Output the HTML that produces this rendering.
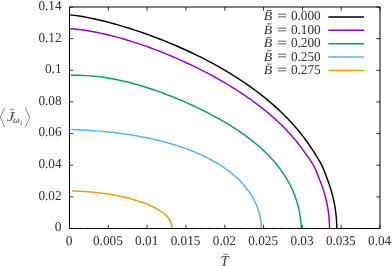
<!DOCTYPE html>
<html><head><meta charset="utf-8"><title>chart</title>
<style>html,body{margin:0;padding:0;background:#fff;overflow:hidden}body{width:392px;height:266px;position:relative;font-family:"Liberation Serif",serif}</style></head>
<body>
<svg width="392" height="266" viewBox="0 0 392 266" style="position:absolute;left:0;top:0;will-change:transform" text-rendering="geometricPrecision">
<rect width="392" height="266" fill="#fff"/>
<path d="M70.00,14.87 L74.58,15.39 L79.12,16.06 L83.61,16.82 L88.05,17.65 L92.45,18.55 L96.80,19.51 L101.11,20.51 L105.37,21.56 L109.59,22.64 L113.76,23.77 L117.89,24.92 L121.97,26.11 L126.00,27.32 L130.00,28.56 L133.94,29.83 L137.85,31.12 L141.71,32.43 L145.52,33.76 L149.29,35.11 L153.02,36.48 L156.70,37.86 L160.34,39.26 L163.94,40.68 L167.49,42.11 L171.00,43.56 L174.47,45.02 L177.90,46.50 L181.28,47.98 L184.62,49.48 L187.92,50.99 L191.18,52.52 L194.39,54.05 L197.56,55.59 L200.69,57.15 L203.78,58.71 L206.83,60.28 L209.84,61.87 L212.80,63.46 L215.73,65.06 L218.61,66.67 L221.45,68.29 L224.26,69.92 L227.02,71.55 L229.74,73.19 L232.43,74.84 L235.07,76.50 L237.68,78.17 L240.24,79.84 L242.77,81.52 L245.25,83.20 L247.70,84.89 L250.11,86.59 L252.48,88.29 L254.81,90.00 L257.11,91.72 L259.37,93.44 L261.58,95.16 L263.77,96.89 L265.91,98.63 L268.02,100.37 L270.09,102.12 L272.12,103.86 L274.11,105.62 L276.07,107.38 L278.00,109.14 L279.89,110.90 L281.74,112.67 L283.55,114.44 L285.33,116.22 L287.08,117.99 L288.79,119.77 L290.46,121.55 L292.10,123.34 L293.71,125.12 L295.28,126.91 L296.82,128.70 L298.33,130.49 L299.80,132.28 L301.23,134.07 L302.64,135.87 L304.01,137.66 L305.35,139.45 L306.65,141.24 L307.93,143.03 L309.17,144.82 L310.38,146.61 L311.56,148.40 L312.70,150.19 L313.86,151.97 L315.02,153.75 L316.16,155.53 L317.27,157.31 L318.34,159.08 L319.39,160.85 L320.41,162.62 L321.38,164.38 L322.17,166.14 L322.94,167.89 L323.68,169.64 L324.39,171.38 L325.07,173.12 L325.73,174.85 L326.36,176.57 L327.01,178.29 L327.66,180.00 L328.29,181.70 L328.89,183.39 L329.47,185.08 L330.02,186.75 L330.55,188.42 L331.05,190.08 L331.52,191.72 L331.98,193.36 L332.41,194.98 L332.81,196.59 L333.19,198.19 L333.55,199.78 L333.89,201.35 L334.21,202.91 L334.50,204.45 L334.78,205.97 L335.03,207.48 L335.26,208.97 L335.48,210.44 L335.67,211.89 L335.85,213.32 L336.00,214.73 L336.14,216.11 L336.27,217.47 L336.38,218.79 L336.47,220.09 L336.55,221.35 L336.61,222.57 L336.66,223.75 L336.70,224.88 L336.72,225.95 L336.74,226.94 L336.75,227.83 L336.75,228.50" stroke="#000000" stroke-width="1.45" fill="none" stroke-linejoin="round" stroke-linecap="butt"/>
<path d="M70.00,28.73 L74.46,29.05 L78.87,29.51 L83.24,30.08 L87.56,30.74 L91.84,31.47 L96.08,32.27 L100.27,33.13 L104.41,34.05 L108.51,35.01 L112.57,36.03 L116.59,37.08 L120.56,38.17 L124.48,39.30 L128.37,40.46 L132.21,41.65 L136.00,42.87 L139.76,44.12 L143.47,45.39 L147.14,46.68 L150.76,47.99 L154.35,49.33 L157.89,50.68 L161.39,52.04 L164.84,53.43 L168.26,54.83 L171.63,56.24 L174.97,57.66 L178.26,59.10 L181.51,60.54 L184.71,62.00 L187.88,63.47 L191.01,64.94 L194.09,66.43 L197.14,67.92 L200.15,69.42 L203.11,70.92 L206.04,72.44 L208.92,73.96 L211.77,75.48 L214.57,77.01 L217.34,78.55 L220.07,80.09 L222.75,81.64 L225.40,83.19 L228.01,84.75 L230.59,86.31 L233.12,87.87 L235.61,89.44 L238.07,91.01 L240.49,92.59 L242.87,94.17 L245.22,95.76 L247.52,97.34 L249.79,98.94 L252.02,100.53 L254.22,102.13 L256.38,103.73 L258.50,105.34 L260.58,106.94 L262.63,108.55 L264.65,110.17 L266.62,111.78 L268.57,113.40 L270.47,115.03 L272.34,116.65 L274.18,118.28 L275.98,119.91 L277.75,121.54 L279.48,123.18 L281.18,124.82 L282.84,126.46 L284.47,128.10 L286.07,129.74 L287.63,131.39 L289.16,133.04 L290.66,134.68 L292.12,136.34 L293.55,137.99 L294.95,139.64 L296.31,141.29 L297.65,142.95 L298.95,144.60 L300.22,146.26 L301.46,147.92 L302.67,149.57 L303.85,151.23 L305.02,152.88 L306.25,154.54 L307.45,156.19 L308.62,157.85 L309.76,159.50 L310.87,161.15 L311.95,162.80 L313.00,164.45 L313.95,166.09 L314.71,167.73 L315.45,169.37 L316.16,171.01 L316.85,172.64 L317.51,174.27 L318.14,175.89 L318.74,177.51 L319.36,179.13 L320.02,180.74 L320.66,182.34 L321.27,183.94 L321.86,185.53 L322.42,187.11 L322.95,188.69 L323.47,190.26 L323.95,191.82 L324.42,193.37 L324.86,194.92 L325.27,196.45 L325.67,197.98 L326.04,199.49 L326.39,200.99 L326.72,202.48 L327.03,203.96 L327.31,205.42 L327.58,206.87 L327.83,208.30 L328.05,209.72 L328.26,211.12 L328.45,212.51 L328.62,213.87 L328.77,215.21 L328.91,216.53 L329.03,217.83 L329.14,219.10 L329.23,220.35 L329.30,221.56 L329.36,222.74 L329.41,223.87 L329.45,224.96 L329.47,226.00 L329.49,226.97 L329.50,227.84 L329.50,228.50" stroke="#9400d3" stroke-width="1.45" fill="none" stroke-linejoin="round" stroke-linecap="butt"/>
<path d="M71.00,75.29 L74.95,75.25 L78.87,75.29 L82.74,75.41 L86.57,75.60 L90.37,75.87 L94.12,76.21 L97.84,76.61 L101.51,77.07 L105.15,77.59 L108.75,78.16 L112.31,78.79 L115.83,79.46 L119.31,80.17 L122.75,80.93 L126.16,81.73 L129.53,82.56 L132.85,83.43 L136.14,84.33 L139.40,85.26 L142.61,86.21 L145.79,87.19 L148.93,88.19 L152.03,89.21 L155.10,90.26 L158.13,91.32 L161.12,92.39 L164.07,93.49 L166.99,94.59 L169.87,95.71 L172.72,96.84 L175.53,97.98 L178.30,99.13 L181.04,100.28 L183.74,101.45 L186.40,102.62 L189.03,103.80 L191.62,104.98 L194.18,106.17 L196.70,107.36 L199.19,108.56 L201.65,109.76 L204.06,110.96 L206.45,112.17 L208.80,113.38 L211.11,114.60 L213.39,115.81 L215.64,117.03 L217.85,118.25 L220.03,119.48 L222.17,120.70 L224.29,121.93 L226.36,123.16 L228.41,124.40 L230.42,125.63 L232.40,126.87 L234.35,128.11 L236.26,129.35 L238.14,130.59 L239.99,131.84 L241.81,133.09 L243.59,134.34 L245.35,135.60 L247.07,136.86 L248.76,138.12 L250.42,139.38 L252.05,140.65 L253.65,141.92 L255.21,143.19 L256.75,144.47 L258.25,145.75 L259.73,147.03 L261.17,148.32 L262.59,149.61 L263.97,150.90 L265.33,152.20 L266.66,153.50 L267.95,154.80 L269.22,156.11 L270.46,157.41 L271.67,158.73 L272.86,160.04 L274.01,161.36 L275.14,162.67 L276.24,164.00 L277.31,165.32 L278.35,166.65 L279.37,167.97 L280.36,169.30 L281.32,170.63 L282.26,171.96 L283.17,173.30 L284.05,174.63 L284.91,175.96 L285.74,177.30 L286.55,178.63 L287.33,179.96 L288.08,181.29 L288.82,182.62 L289.52,183.95 L290.20,185.28 L290.86,186.60 L291.50,187.93 L292.11,189.24 L292.70,190.56 L293.26,191.87 L293.80,193.17 L294.32,194.47 L294.82,195.77 L295.30,197.06 L295.75,198.34 L296.18,199.61 L296.59,200.88 L296.98,202.14 L297.35,203.39 L297.70,204.63 L298.03,205.86 L298.34,207.08 L298.63,208.29 L298.91,209.48 L299.16,210.66 L299.40,211.83 L299.61,212.99 L299.82,214.12 L300.00,215.24 L300.17,216.34 L300.32,217.43 L300.46,218.49 L300.58,219.53 L300.68,220.55 L300.78,221.54 L300.86,222.50 L300.92,223.43 L300.98,224.33 L301.02,225.19 L301.05,226.00 L301.08,226.76 L301.09,227.46 L301.10,228.07 L301.10,228.50" stroke="#009e73" stroke-width="1.45" fill="none" stroke-linejoin="round" stroke-linecap="butt"/>
<path d="M71.20,129.51 L74.47,129.64 L77.70,129.78 L80.90,129.93 L84.07,130.09 L87.20,130.27 L90.31,130.47 L93.38,130.68 L96.42,130.90 L99.42,131.14 L102.39,131.40 L105.34,131.68 L108.24,131.97 L111.12,132.27 L113.97,132.59 L116.78,132.93 L119.56,133.28 L122.31,133.65 L125.03,134.03 L127.72,134.42 L130.38,134.83 L133.01,135.26 L135.60,135.69 L138.16,136.14 L140.70,136.61 L143.20,137.09 L145.67,137.58 L148.11,138.08 L150.53,138.59 L152.91,139.12 L155.26,139.66 L157.58,140.21 L159.87,140.77 L162.13,141.35 L164.36,141.93 L166.56,142.53 L168.74,143.14 L170.88,143.75 L172.99,144.38 L175.08,145.02 L177.14,145.67 L179.16,146.33 L181.16,146.99 L183.13,147.67 L185.07,148.36 L186.99,149.05 L188.87,149.76 L190.73,150.47 L192.55,151.20 L194.35,151.93 L196.13,152.67 L197.87,153.41 L199.59,154.17 L201.28,154.94 L202.94,155.71 L204.58,156.49 L206.19,157.28 L207.77,158.07 L209.32,158.87 L210.85,159.68 L212.35,160.50 L213.83,161.32 L215.28,162.15 L216.70,162.99 L218.10,163.83 L219.47,164.68 L220.81,165.54 L222.13,166.40 L223.43,167.26 L224.70,168.14 L225.94,169.01 L227.16,169.90 L228.36,170.78 L229.53,171.68 L230.67,172.57 L231.79,173.47 L232.89,174.38 L233.96,175.29 L235.01,176.20 L236.03,177.12 L237.03,178.04 L238.01,178.97 L238.96,179.89 L239.90,180.82 L240.80,181.76 L241.69,182.69 L242.55,183.63 L243.39,184.57 L244.21,185.51 L245.00,186.45 L245.78,187.40 L246.53,188.35 L247.26,189.29 L247.97,190.24 L248.66,191.19 L249.32,192.13 L249.97,193.08 L250.59,194.03 L251.20,194.98 L251.78,195.92 L252.35,196.87 L252.89,197.81 L253.42,198.75 L253.92,199.69 L254.41,200.63 L254.87,201.56 L255.32,202.50 L255.75,203.43 L256.16,204.35 L256.55,205.27 L256.93,206.19 L257.29,207.11 L257.62,208.02 L257.95,208.92 L258.25,209.82 L258.54,210.71 L258.81,211.60 L259.07,212.48 L259.31,213.35 L259.54,214.22 L259.75,215.07 L259.94,215.92 L260.12,216.76 L260.29,217.59 L260.44,218.41 L260.58,219.22 L260.71,220.02 L260.82,220.81 L260.92,221.58 L261.01,222.33 L261.08,223.08 L261.15,223.80 L261.20,224.50 L261.25,225.19 L261.28,225.85 L261.31,226.48 L261.33,227.07 L261.34,227.63 L261.35,228.13 L261.35,228.50" stroke="#56b4e9" stroke-width="1.45" fill="none" stroke-linejoin="round" stroke-linecap="butt"/>
<path d="M72.00,191.02 L73.72,191.05 L75.42,191.09 L77.10,191.14 L78.76,191.21 L80.41,191.29 L82.04,191.38 L83.65,191.48 L85.25,191.58 L86.83,191.70 L88.39,191.82 L89.93,191.95 L91.46,192.08 L92.97,192.22 L94.47,192.37 L95.95,192.53 L97.41,192.69 L98.85,192.86 L100.28,193.03 L101.70,193.21 L103.09,193.39 L104.47,193.58 L105.83,193.78 L107.18,193.98 L108.51,194.18 L109.83,194.39 L111.13,194.61 L112.41,194.83 L113.68,195.05 L114.93,195.28 L116.16,195.51 L117.38,195.75 L118.58,195.99 L119.77,196.23 L120.95,196.48 L122.10,196.73 L123.24,196.99 L124.37,197.25 L125.48,197.51 L126.58,197.77 L127.66,198.04 L128.72,198.31 L129.77,198.58 L130.81,198.86 L131.83,199.14 L132.83,199.42 L133.82,199.71 L134.80,199.99 L135.76,200.28 L136.70,200.57 L137.63,200.87 L138.55,201.16 L139.45,201.46 L140.34,201.76 L141.21,202.06 L142.07,202.36 L142.92,202.66 L143.75,202.97 L144.57,203.27 L145.37,203.58 L146.16,203.89 L146.93,204.20 L147.69,204.51 L148.44,204.82 L149.18,205.14 L149.90,205.45 L150.60,205.77 L151.30,206.08 L151.98,206.40 L152.64,206.71 L153.30,207.03 L153.94,207.35 L154.57,207.67 L155.18,207.98 L155.78,208.30 L156.37,208.62 L156.95,208.94 L157.51,209.26 L158.06,209.58 L158.60,209.90 L159.12,210.22 L159.64,210.54 L160.14,210.86 L160.63,211.18 L161.11,211.50 L161.57,211.82 L162.02,212.14 L162.47,212.45 L162.89,212.77 L163.31,213.09 L163.72,213.41 L164.11,213.73 L164.50,214.05 L164.87,214.37 L165.23,214.68 L165.58,215.00 L165.92,215.32 L166.25,215.63 L166.57,215.95 L166.87,216.27 L167.17,216.58 L167.46,216.90 L167.73,217.21 L168.00,217.53 L168.25,217.84 L168.50,218.15 L168.73,218.47 L168.96,218.78 L169.17,219.09 L169.38,219.41 L169.58,219.72 L169.76,220.03 L169.94,220.34 L170.11,220.65 L170.27,220.96 L170.42,221.27 L170.57,221.58 L170.70,221.89 L170.83,222.19 L170.95,222.50 L171.06,222.81 L171.16,223.12 L171.26,223.42 L171.34,223.73 L171.42,224.03 L171.50,224.34 L171.56,224.64 L171.62,224.95 L171.67,225.25 L171.72,225.55 L171.76,225.85 L171.79,226.15 L171.82,226.45 L171.85,226.75 L171.87,227.05 L171.88,227.34 L171.89,227.64 L171.90,227.93 L171.90,228.22 L171.90,228.50" stroke="#e69f00" stroke-width="1.45" fill="none" stroke-linejoin="round" stroke-linecap="butt"/>
<path d="M69.5,7.0 H380.0 V228.5 H69.5 Z" stroke="#000" stroke-width="1" fill="none"/>
<path d="M73.7,228.95 H365" stroke="#e69f00" stroke-width="0.6" stroke-dasharray="4.2 3.9" fill="none" opacity="0.45"/>
<path d="M69.50,228.5 v-3.7 M69.50,7.0 v3.7 M108.31,228.5 v-3.7 M108.31,7.0 v3.7 M147.12,228.5 v-3.7 M147.12,7.0 v3.7 M185.94,228.5 v-3.7 M185.94,7.0 v3.7 M224.75,228.5 v-3.7 M224.75,7.0 v3.7 M263.56,228.5 v-3.7 M263.56,7.0 v3.7 M302.38,228.5 v-3.7 M302.38,7.0 v3.7 M341.19,228.5 v-3.7 M341.19,7.0 v3.7 M380.00,228.5 v-3.7 M380.00,7.0 v3.7 M69.5,228.50 h3.7 M380.0,228.50 h-3.7 M69.5,196.86 h3.7 M380.0,196.86 h-3.7 M69.5,165.21 h3.7 M380.0,165.21 h-3.7 M69.5,133.57 h3.7 M380.0,133.57 h-3.7 M69.5,101.93 h3.7 M380.0,101.93 h-3.7 M69.5,70.29 h3.7 M380.0,70.29 h-3.7 M69.5,38.64 h3.7 M380.0,38.64 h-3.7 M69.5,7.00 h3.7 M380.0,7.00 h-3.7" stroke="#000" stroke-width="0.8" fill="none"/>
<g font-family="Liberation Serif, serif" font-size="13.5" fill="#2e2e2e">
<text x="69.10" y="245.30" text-anchor="middle" >0</text>
<text x="107.91" y="245.30" text-anchor="middle" textLength="29.8" lengthAdjust="spacingAndGlyphs" >0.005</text>
<text x="146.72" y="245.30" text-anchor="middle" textLength="23.2" lengthAdjust="spacingAndGlyphs" >0.01</text>
<text x="185.54" y="245.30" text-anchor="middle" textLength="29.8" lengthAdjust="spacingAndGlyphs" >0.015</text>
<text x="224.35" y="245.30" text-anchor="middle" textLength="23.2" lengthAdjust="spacingAndGlyphs" >0.02</text>
<text x="263.16" y="245.30" text-anchor="middle" textLength="29.8" lengthAdjust="spacingAndGlyphs" >0.025</text>
<text x="301.98" y="245.30" text-anchor="middle" textLength="23.2" lengthAdjust="spacingAndGlyphs" >0.03</text>
<text x="340.79" y="245.30" text-anchor="middle" textLength="29.8" lengthAdjust="spacingAndGlyphs" >0.035</text>
<text x="379.60" y="245.30" text-anchor="middle" textLength="23.2" lengthAdjust="spacingAndGlyphs" >0.04</text>
<text x="61.60" y="231.40" text-anchor="end" >0</text>
<text x="61.60" y="199.76" text-anchor="end" textLength="23.2" lengthAdjust="spacingAndGlyphs" >0.02</text>
<text x="61.60" y="168.11" text-anchor="end" textLength="23.2" lengthAdjust="spacingAndGlyphs" >0.04</text>
<text x="61.60" y="136.47" text-anchor="end" textLength="23.2" lengthAdjust="spacingAndGlyphs" >0.06</text>
<text x="61.60" y="104.83" text-anchor="end" textLength="23.2" lengthAdjust="spacingAndGlyphs" >0.08</text>
<text x="61.60" y="73.19" text-anchor="end" textLength="16.7" lengthAdjust="spacingAndGlyphs" >0.1</text>
<text x="61.60" y="41.54" text-anchor="end" textLength="23.2" lengthAdjust="spacingAndGlyphs" >0.12</text>
<text x="61.60" y="9.90" text-anchor="end" textLength="23.2" lengthAdjust="spacingAndGlyphs" >0.14</text>
<text x="320.70" y="20.40" text-anchor="end" textLength="29.8" lengthAdjust="spacingAndGlyphs" >0.000</text>
<text x="277.2" y="20.10" textLength="9.6" lengthAdjust="spacingAndGlyphs">=</text>
<text x="263.7" y="20.40" font-style="italic" font-size="12.8" textLength="8.5" lengthAdjust="spacingAndGlyphs">B</text>
<path d="M266.9,10.50 h4.6" stroke="#2e2e2e" stroke-width="0.75"/>
<text x="320.70" y="33.80" text-anchor="end" textLength="29.8" lengthAdjust="spacingAndGlyphs" >0.100</text>
<text x="277.2" y="33.50" textLength="9.6" lengthAdjust="spacingAndGlyphs">=</text>
<text x="263.7" y="33.80" font-style="italic" font-size="12.8" textLength="8.5" lengthAdjust="spacingAndGlyphs">B</text>
<path d="M266.9,23.90 h4.6" stroke="#2e2e2e" stroke-width="0.75"/>
<text x="320.70" y="47.20" text-anchor="end" textLength="29.8" lengthAdjust="spacingAndGlyphs" >0.200</text>
<text x="277.2" y="46.90" textLength="9.6" lengthAdjust="spacingAndGlyphs">=</text>
<text x="263.7" y="47.20" font-style="italic" font-size="12.8" textLength="8.5" lengthAdjust="spacingAndGlyphs">B</text>
<path d="M266.9,37.30 h4.6" stroke="#2e2e2e" stroke-width="0.75"/>
<text x="320.70" y="60.60" text-anchor="end" textLength="29.8" lengthAdjust="spacingAndGlyphs" >0.250</text>
<text x="277.2" y="60.30" textLength="9.6" lengthAdjust="spacingAndGlyphs">=</text>
<text x="263.7" y="60.60" font-style="italic" font-size="12.8" textLength="8.5" lengthAdjust="spacingAndGlyphs">B</text>
<path d="M266.9,50.70 h4.6" stroke="#2e2e2e" stroke-width="0.75"/>
<text x="320.70" y="74.00" text-anchor="end" textLength="29.8" lengthAdjust="spacingAndGlyphs" >0.275</text>
<text x="277.2" y="73.70" textLength="9.6" lengthAdjust="spacingAndGlyphs">=</text>
<text x="263.7" y="74.00" font-style="italic" font-size="12.8" textLength="8.5" lengthAdjust="spacingAndGlyphs">B</text>
<path d="M266.9,64.10 h4.6" stroke="#2e2e2e" stroke-width="0.75"/>
</g>
<path d="M328.4,16.90 H364.1" stroke="#000000" stroke-width="1.5" fill="none"/>
<path d="M328.4,30.30 H364.1" stroke="#9400d3" stroke-width="1.5" fill="none"/>
<path d="M328.4,43.70 H364.1" stroke="#009e73" stroke-width="1.5" fill="none"/>
<path d="M328.4,57.10 H364.1" stroke="#56b4e9" stroke-width="1.5" fill="none"/>
<path d="M328.4,70.50 H364.1" stroke="#e69f00" stroke-width="1.5" fill="none"/>
<g stroke="#333" stroke-width="0.6" fill="none"><path d="M4.6,107.5 L0.4,117.4 L4.6,127.3"/><path d="M25.2,107.5 L29.7,117.4 L25.2,127.3"/></g>
<g font-family="Liberation Serif, serif" fill="#333">
<text x="6.7" y="121.1" font-size="13.2" font-style="italic" textLength="7.6" lengthAdjust="spacingAndGlyphs" fill="#484848">J</text>
<path d="M10.2,109.6 h4.2" stroke="#333" stroke-width="0.6"/>
<text x="13.1" y="122.7" font-size="9.4" font-style="italic" fill="#444">ω</text>
<text x="19.3" y="124.9" font-size="7">1</text>
<text x="220.2" y="265.9" font-size="15.3" font-style="italic" fill="#484848">T</text>
<path d="M223.2,254.3 h5" stroke="#555" stroke-width="0.7"/>
</g>
</svg>
</body></html>
